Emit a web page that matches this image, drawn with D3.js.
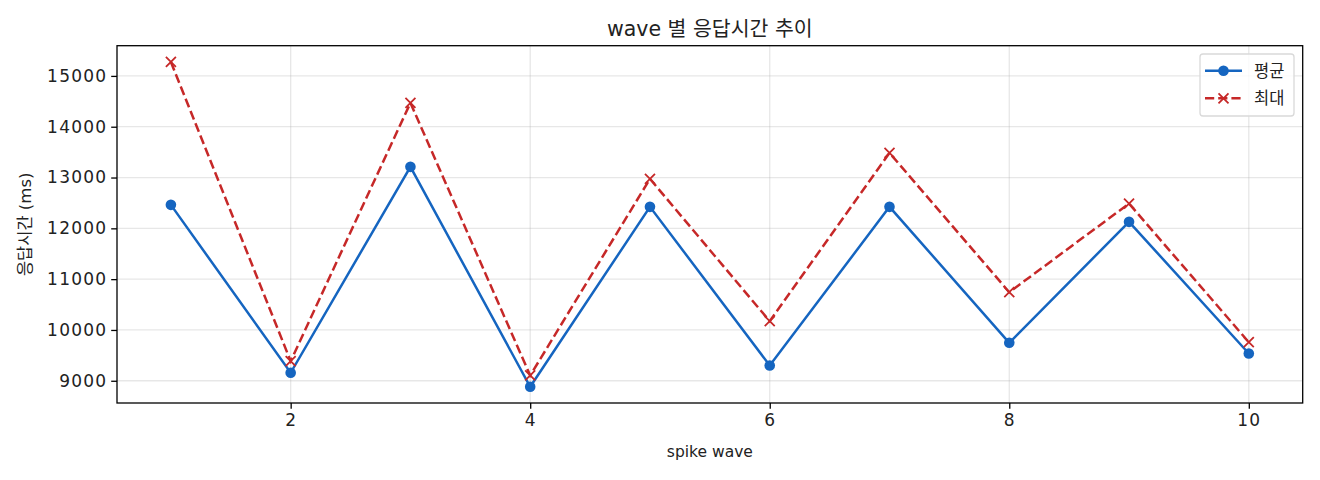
<!DOCTYPE html>
<html>
<head>
<meta charset="utf-8">
<script src="https://cdn.jsdelivr.net/npm/d3@7/dist/d3.min.js"></script>
<style>
  body { margin: 0; background: #fff; }
  svg text { font-family: "DejaVu Sans", "Noto Sans CJK KR", sans-serif; fill: #222; }
</style>
</head>
<body>
<div id="chart"></div>
<script>
// wave 번호
var waves = [1, 2, 3, 4, 5, 6, 7, 8, 9, 10];
// 평균 응답시간 (ms)
var avgValues = [12462, 9157, 13210, 8882, 12423, 9301, 12423, 9747, 12128, 9537];
// 최대 응답시간 (ms)
var maxValues = [15275, 9385, 14469, 9104, 12974, 10172, 13485, 10743, 12488, 9759];
var xTicks = [2, 4, 6, 8, 10];
var yTicks = [9000, 10000, 11000, 12000, 13000, 14000, 15000];
var seriesNames = ["평균", "최대"];

var width = 1320, height = 480;
var margin = { top: 45.7, right: 17.3, bottom: 77, left: 117 };
var blue = "#1565c0", red = "#c62828";

var svg = d3.select("#chart")
    .append("svg")
    .attr("width", width)
    .attr("height", height);

// matplotlib style 5% margins
var xMin = d3.min(waves), xMax = d3.max(waves);
var xPad = (xMax - xMin) * 0.05;
var allY = avgValues.concat(maxValues);
var yMin = d3.min(allY), yMax = d3.max(allY);
var yPad = (yMax - yMin) * 0.05;

var x = d3.scaleLinear()
    .domain([xMin - xPad, xMax + xPad])
    .range([margin.left, width - margin.right]);

var y = d3.scaleLinear()
    .domain([yMin - yPad, yMax + yPad])
    .range([height - margin.bottom, margin.top]);

//grid
svg.append("g")
    .selectAll("line")
    .data(xTicks)
    .enter()
    .append("line")
    .attr("x1", function(d) { return x(d); })
    .attr("x2", function(d) { return x(d); })
    .attr("y1", margin.top)
    .attr("y2", height - margin.bottom)
    .style("stroke", "#b0b0b0")
    .style("stroke-opacity", 0.3)
    .style("stroke-width", 1.3);

svg.append("g")
    .selectAll("line")
    .data(yTicks)
    .enter()
    .append("line")
    .attr("x1", margin.left)
    .attr("x2", width - margin.right)
    .attr("y1", function(d) { return y(d); })
    .attr("y2", function(d) { return y(d); })
    .style("stroke", "#b0b0b0")
    .style("stroke-opacity", 0.3)
    .style("stroke-width", 1.3);

//axes
var xAxis = svg.append("g")
    .attr("transform", "translate(0," + (height - margin.bottom) + ")")
    .call(d3.axisBottom(x).tickValues(xTicks).tickSize(5.8).tickPadding(5).tickFormat(d3.format("d")));

var yAxis = svg.append("g")
    .attr("transform", "translate(" + margin.left + ",0)")
    .call(d3.axisLeft(y).tickValues(yTicks).tickSize(5.8).tickPadding(4).tickFormat(d3.format("d")));

[xAxis, yAxis].forEach(function(ax) {
    ax.select(".domain").remove();
    ax.selectAll(".tick line").style("stroke", "#000").style("stroke-width", 1.3);
    ax.selectAll(".tick text")
        .style("font-size", "17px")
        .style("letter-spacing", "1.2px")
        .style("fill", "#222");
});

//frame
svg.append("rect")
    .attr("x", margin.left)
    .attr("y", margin.top)
    .attr("width", width - margin.left - margin.right)
    .attr("height", height - margin.top - margin.bottom)
    .style("fill", "none")
    .style("stroke", "#000")
    .style("stroke-width", 1.3);

//lines
var line = d3.line()
    .x(function(d) { return x(d[0]); })
    .y(function(d) { return y(d[1]); });

var maxData = waves.map(function(w, i) { return [w, maxValues[i]]; });
var avgData = waves.map(function(w, i) { return [w, avgValues[i]]; });

svg.append("path")
    .datum(maxData)
    .attr("d", line)
    .style("fill", "none")
    .style("stroke", red)
    .style("stroke-width", 2.5)
    .style("stroke-dasharray", "9.2,4");

svg.append("path")
    .datum(avgData)
    .attr("d", line)
    .style("fill", "none")
    .style("stroke", blue)
    .style("stroke-width", 2.5);

function drawCross(g, cx, cy, r) {
    g.append("path")
        .attr("d", "M" + (cx - r) + "," + (cy - r) + "L" + (cx + r) + "," + (cy + r) +
                   "M" + (cx - r) + "," + (cy + r) + "L" + (cx + r) + "," + (cy - r))
        .style("stroke", red)
        .style("stroke-width", 1.8)
        .style("fill", "none");
}

var crosses = svg.append("g");
maxData.forEach(function(d) { drawCross(crosses, x(d[0]), y(d[1]), 5); });

svg.append("g")
    .selectAll("circle")
    .data(avgData)
    .enter()
    .append("circle")
    .attr("cx", function(d) { return x(d[0]); })
    .attr("cy", function(d) { return y(d[1]); })
    .attr("r", 5.3)
    .style("fill", blue);

//labels
svg.append("text")
    .attr("x", (margin.left + width - margin.right) / 2)
    .attr("y", 36)
    .attr("text-anchor", "middle")
    .style("font-size", "20.5px")
    .text("wave 별 응답시간 추이");

svg.append("text")
    .attr("x", (margin.left + width - margin.right) / 2)
    .attr("y", 457)
    .attr("text-anchor", "middle")
    .style("font-size", "15.5px")
    .text("spike wave");

svg.append("text")
    .attr("transform", "translate(31," + ((margin.top + height - margin.bottom) / 2) + ") rotate(-90)")
    .attr("text-anchor", "middle")
    .style("font-size", "16.5px")
    .text("응답시간 (ms)");

//legend
var legend = svg.append("g");
legend.append("rect")
    .attr("x", 1200)
    .attr("y", 54)
    .attr("width", 94)
    .attr("height", 62)
    .attr("rx", 3)
    .style("fill", "#fff")
    .style("fill-opacity", 0.8)
    .style("stroke", "#d9d9d9")
    .style("stroke-width", 1.3);

var legendY = [70.7, 98.3];
legend.append("line")
    .attr("x1", 1205).attr("x2", 1242)
    .attr("y1", legendY[0]).attr("y2", legendY[0])
    .style("stroke", blue).style("stroke-width", 2.5);
legend.append("circle")
    .attr("cx", 1223.5).attr("cy", legendY[0]).attr("r", 5.3)
    .style("fill", blue);
legend.append("line")
    .attr("x1", 1205).attr("x2", 1242)
    .attr("y1", legendY[1]).attr("y2", legendY[1])
    .style("stroke", red).style("stroke-width", 2.5)
    .style("stroke-dasharray", "9.2,4");
drawCross(legend, 1223.5, legendY[1], 5);

legend.selectAll("text")
    .data(seriesNames)
    .enter()
    .append("text")
    .attr("x", 1254)
    .attr("y", function(d, i) { return legendY[i] + 6; })
    .style("font-size", "16.5px")
    .text(function(d) { return d; });
</script>
</body>
</html>
